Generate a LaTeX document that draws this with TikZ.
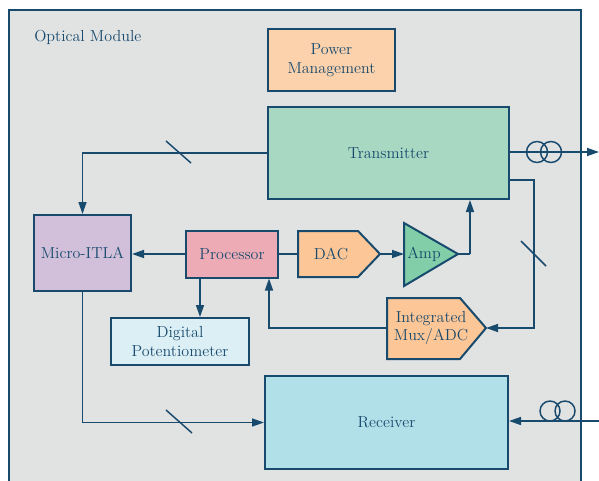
\documentclass[tikz,border=0pt]{standalone}
\usetikzlibrary{arrows.meta,calc}
\definecolor{navy}{RGB}{24,74,110}
\definecolor{modfill}{RGB}{225,226,226}
\definecolor{pwrfill}{RGB}{252,210,172}
\definecolor{txfill}{RGB}{168,216,194}
\definecolor{itlafill}{RGB}{210,192,218}
\definecolor{procfill}{RGB}{237,171,182}
\definecolor{convfill}{RGB}{252,198,150}
\definecolor{ampfill}{RGB}{130,206,168}
\definecolor{potfill}{RGB}{219,239,245}
\definecolor{rxfill}{RGB}{178,224,232}
\tikzset{
  blk/.style={draw=navy, line width=1.5pt, fill=#1, inner sep=0.75pt, text=navy, font=\large, align=center},
  lbl/.style={inner sep=0.75pt, text=navy, font=\large, align=center},
  conn/.style={draw=navy, line width=1.1pt, -{Triangle[length=9pt,width=6pt]}},
  wire/.style={draw=navy, line width=1.1pt},
  coil/.style={draw=navy, line width=1.1pt}
}

\begin{document}
\begin{tikzpicture}[x=0.75pt,y=0.75pt,yscale=-1,xscale=1]
\useasboundingbox (0,0) rectangle (599,481);

% module outline, runs off the bottom
\draw [draw=navy, line width=1.5pt, fill=modfill] (9,10) rectangle (581,500);
\node (title) [lbl, anchor=west] at (33,37) {Optical Module};

% blocks
\node (pwr) [blk=pwrfill, minimum width=95.25pt, minimum height=46.5pt] at (331.5,60) {Power\\Management};
\node (tx) [blk=txfill, minimum width=180.75pt, minimum height=69pt] at (388.5,153) {Transmitter};
\node (itla) [blk=itlafill, minimum width=72.75pt, minimum height=57pt] at (82.5,253) {Micro-ITLA};
\node (proc) [blk=procfill, minimum width=69pt, minimum height=35.25pt] at (232,254) {Processor};
\node (pot) [blk=potfill, minimum width=103.5pt, minimum height=35.25pt] at (180,341.5) {Digital\\Potentiometer};
\node (rx) [blk=rxfill, minimum width=182.25pt, minimum height=69.75pt] at (386.5,422.5) {Receiver};

% DAC, amplifier and mux drawn as outlines
\draw [draw=navy, line width=1.5pt, fill=convfill] (298,231) -- (358,231) -- (380,254) -- (358,277) -- (298,277) -- cycle;
\node (dac) [lbl] at (331,254) {DAC};
\coordinate (dacin) at (298,254);
\coordinate (dacout) at (380,254);

\draw [draw=navy, line width=1.5pt, fill=ampfill] (404,223) -- (458,254) -- (404,286) -- cycle;
\node (amp) [lbl] at (424,254) {Amp};
\coordinate (ampin) at (404,254);
\coordinate (ampout) at (458,254);
\coordinate (ampup) at (470,254);

\draw [draw=navy, line width=1.5pt, fill=convfill] (387,298) -- (460,298) -- (486,328) -- (460,359) -- (387,359) -- cycle;
\node (mux) [lbl] at (431,328) {Integrated\\Mux/ADC};
\coordinate (muxin) at (486,328);
\coordinate (muxout) at (387,328);

% connections
\draw [conn] (tx.west) -| (itla.north);
\draw [conn] (proc.west) -- (proc.west -| itla.east);
\draw [conn] ([xshift=-24pt]proc.south) -- ([xshift=-24pt]proc.south |- pot.north);
\draw [wire] (proc.east) -- (dacin);
\draw [conn] (dacout) -- (ampin);
\draw [wire] (ampout) -- (ampup);
\draw [conn] (ampup) -- (ampup |- tx.south);
\draw [conn] (muxout) -| ([xshift=27.75pt]proc.south);
\coordinate (fbtap) at (509,180);
\coordinate (fbk) at (534,328);
\draw [conn] (fbtap) -| (fbk) -- (muxin);
\draw [conn] (itla.south) |- (rx.west);

% optical ports
\coordinate (txport) at (599,152);
\coordinate (rxport) at (599,421);
\draw [conn] (tx.east |- txport) -- (txport);
\draw [conn] (rxport) -- (rx.east |- rxport);
\draw [coil] (537,152) circle (10.5) (551,152) circle (10.5);
\draw [coil] (550,411) circle (10) (565,411) circle (10);

% bus ticks
\draw [wire] (166,141) -- (191,163);
\draw [wire] (521,241) -- (546,266);
\draw [wire] (166,410) -- (192,433);
\end{tikzpicture}
\end{document}
